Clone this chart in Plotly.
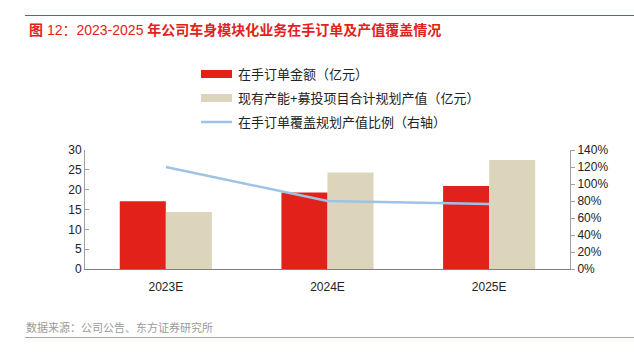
import plotly.graph_objects as go

categories = ["2023E", "2024E", "2025E"]
orders = [17.1, 19.3, 20.9]            # 在手订单金额（亿元）
capacity = [14.4, 24.3, 27.5]          # 现有产能+募投项目合计规划产值（亿元）
coverage = [1.20, 0.80, 0.765]         # 在手订单覆盖规划产值比例（右轴）
left_ticks = [0, 5, 10, 15, 20, 25, 30]
right_ticks = [0, 0.2, 0.4, 0.6, 0.8, 1.0, 1.2, 1.4]

names = ["在手订单金额（亿元）", "现有产能+募投项目合计规划产值（亿元）", "在手订单覆盖规划产值比例（右轴）"]
RED = "#E2211B"
BEIGE = "#DDD4BC"
BLUE = "#9DC3E6"
FONT = "Liberation Sans, Noto Sans CJK SC, sans-serif"

W, H = 634, 354
L, R, T, B = 85, 570, 150, 269

fig = go.Figure()
fig.add_trace(go.Bar(x=categories, y=orders, name=names[0], marker_color=RED, marker_line_width=0))
fig.add_trace(go.Bar(x=categories, y=capacity, name=names[1], marker_color=BEIGE, marker_line_width=0))
fig.add_trace(go.Scatter(x=categories, y=coverage, name=names[2], mode="lines",
                         line=dict(color=BLUE, width=2.5), yaxis="y2"))

def px_x(px):
    return (px - L) / (R - L)

def px_y(py):
    return (B - py) / (B - T)

shapes = [
    dict(type="line", xref="paper", yref="paper", x0=px_x(25), x1=px_x(634), y0=px_y(15.5), y1=px_y(15.5),
         line=dict(color="#E3322B", width=1.2)),
    dict(type="line", xref="paper", yref="paper", x0=px_x(25), x1=px_x(634), y0=px_y(337.5), y1=px_y(337.5),
         line=dict(color="#E48A86", width=1.2)),
]
annotations = [
    dict(text="<b>图</b> 12：2023-2025 <b>年公司车身模块化业务在手订单及产值覆盖情况</b>", xref="paper", yref="paper",
         x=px_x(27), y=px_y(29.5), xanchor="left", yanchor="middle", showarrow=False,
         font=dict(size=14, color="#E3211C", family=FONT)),
    dict(text="数据来源：公司公告、东方证券研究所", xref="paper", yref="paper",
         x=px_x(24), y=px_y(327.5), xanchor="left", yanchor="middle", showarrow=False,
         font=dict(size=11, color="#9A9A9A", family=FONT)),
]
# manual legend
leg_y = [74, 98, 122]
for i, (nm, yy) in enumerate(zip(names, leg_y)):
    if i < 2:
        shapes.append(dict(type="rect", xref="paper", yref="paper", x0=px_x(201), x1=px_x(232),
                           y0=px_y(yy - 4), y1=px_y(yy + 4),
                           fillcolor=[RED, BEIGE][i], line=dict(width=0)))
    else:
        shapes.append(dict(type="line", xref="paper", yref="paper", x0=px_x(201), x1=px_x(232),
                           y0=px_y(yy), y1=px_y(yy), line=dict(color=BLUE, width=2.5)))
    annotations.append(dict(text=nm, xref="paper", yref="paper", x=px_x(236), y=px_y(yy),
                            xanchor="left", yanchor="middle", showarrow=False,
                            font=dict(size=13, color="#222222", family=FONT)))

fig.update_layout(
    width=W, height=H,
    margin=dict(l=L, r=W - R, t=T, b=H - B, pad=0),
    paper_bgcolor="white", plot_bgcolor="white",
    barmode="group", bargap=0.43, bargroupgap=0,
    showlegend=False,
    font=dict(family=FONT, size=12, color="#222222"),
    xaxis=dict(showline=True, linecolor="#7F7F7F", linewidth=1.2, ticks="", showgrid=False,
               tickfont=dict(size=12, color="#222222"), ticklabelstandoff=6),
    yaxis=dict(range=[0, 30], tickvals=left_ticks, showgrid=False, zeroline=False,
               showline=True, linecolor="#A0A0A0", linewidth=1, ticks="inside", ticklen=4,
               tickcolor="#A0A0A0", tickfont=dict(size=12, color="#222222")),
    yaxis2=dict(range=[0, 1.4], tickvals=right_ticks, tickformat=".0%", overlaying="y", side="right",
                showgrid=False, zeroline=False, showline=True, linecolor="#A0A0A0", linewidth=1,
                ticks="outside", ticklen=4, tickcolor="#A0A0A0",
                tickfont=dict(size=12, color="#222222")),
    shapes=shapes, annotations=annotations,
)

fig.write_html("out.html")
